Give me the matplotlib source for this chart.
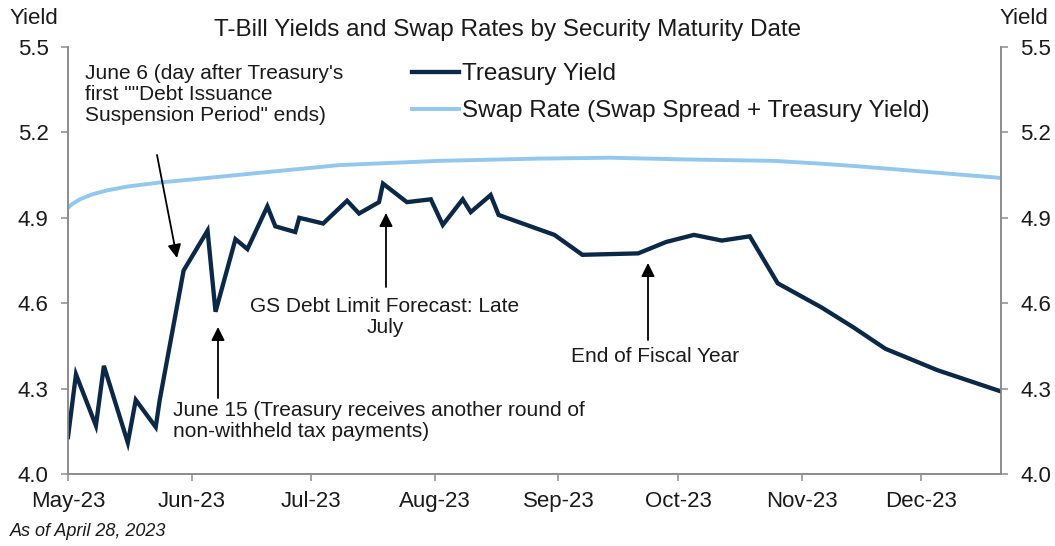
import matplotlib
matplotlib.use("Agg")
import matplotlib.pyplot as plt
import matplotlib.patches as mpatches
import pandas as pd

plt.rcParams['font.family'] = ['Liberation Sans', 'DejaVu Sans']

# ---------------- data ----------------
treasury_dates = ["2023-05-01", "2023-05-03", "2023-05-08", "2023-05-10", "2023-05-16",
                  "2023-05-18", "2023-05-23", "2023-05-24", "2023-05-30", "2023-06-05",
                  "2023-06-07", "2023-06-12", "2023-06-15", "2023-06-20", "2023-06-22",
                  "2023-06-27", "2023-06-28", "2023-07-04", "2023-07-10", "2023-07-13",
                  "2023-07-18", "2023-07-19", "2023-07-25", "2023-07-31", "2023-08-03",
                  "2023-08-08", "2023-08-10", "2023-08-15", "2023-08-17", "2023-08-31",
                  "2023-09-07", "2023-09-21", "2023-09-28", "2023-10-05", "2023-10-12",
                  "2023-10-19", "2023-10-26", "2023-11-06", "2023-11-14", "2023-11-22",
                  "2023-12-05", "2023-12-21"]
treasury_yield = [4.13, 4.35, 4.17, 4.38, 4.11, 4.26, 4.165, 4.26, 4.715,
                  4.855, 4.57, 4.825, 4.79, 4.94, 4.87, 4.85, 4.90, 4.88,
                  4.96, 4.915, 4.955, 5.02, 4.955, 4.965, 4.875, 4.965, 4.92,
                  4.98, 4.91, 4.84, 4.77, 4.775, 4.815, 4.84, 4.82, 4.835,
                  4.67, 4.585, 4.515, 4.44, 4.365, 4.29]

swap_dates = ["2023-05-01", "2023-05-02", "2023-05-04", "2023-05-07", "2023-05-11",
              "2023-05-16", "2023-05-24", "2023-06-05", "2023-06-18", "2023-07-08",
              "2023-08-02", "2023-08-27", "2023-09-14", "2023-10-03", "2023-10-25",
              "2023-11-06", "2023-11-16", "2023-12-21"]
swap_rate = [4.935, 4.948, 4.965, 4.982, 4.997, 5.010, 5.024, 5.040, 5.058, 5.085,
             5.100, 5.108, 5.111, 5.105, 5.100, 5.090, 5.080, 5.040]

month_ticks = ["2023-05-01", "2023-06-01", "2023-07-01", "2023-08-01",
               "2023-09-01", "2023-10-01", "2023-11-01", "2023-12-01"]
month_labels = ["May-23", "Jun-23", "Jul-23", "Aug-23", "Sep-23", "Oct-23", "Nov-23", "Dec-23"]
y_ticks = [4.0, 4.3, 4.6, 4.9, 5.2, 5.5]

series_names = ["Treasury Yield", "Swap Rate (Swap Spread + Treasury Yield)"]
title = "T-Bill Yields and Swap Rates by Security Maturity Date"

# ---------------- layout ----------------
W, H = 1055, 546
fig = plt.figure(figsize=(W / 100, H / 100), dpi=100)
ax = fig.add_axes([68 / W, 72 / H, (1001 - 68) / W, (474 - 47) / H])

def fp(x, y):
    return (x / W, 1 - y / H)

navy = "#0b2846"
light = "#93c8ee"
grey = "#8c8c8c"
txt = "#1a1a1a"

td = pd.to_datetime(treasury_dates)
sd = pd.to_datetime(swap_dates)
l1, = ax.plot(td, treasury_yield, color=navy, lw=3.1, solid_joinstyle="miter", zorder=3)
l2, = ax.plot(sd, swap_rate, color=light, lw=2.8, zorder=2)

ax.set_xlim(pd.Timestamp("2023-05-01"), pd.Timestamp("2023-12-21"))
ax.set_ylim(4.0, 5.5)
ax.set_xticks(pd.to_datetime(month_ticks))
ax.set_xticklabels(month_labels)
ax.set_yticks(y_ticks)
ax.set_yticklabels([f"{v:.1f}" for v in y_ticks])

ax2 = ax.twinx()
ax2.set_ylim(4.0, 5.5)
ax2.set_yticks(y_ticks)
ax2.set_yticklabels([f"{v:.1f}" for v in y_ticks])

for a in (ax, ax2):
    a.spines['top'].set_visible(False)
    for s in ('left', 'right', 'bottom'):
        a.spines[s].set_color(grey)
        a.spines[s].set_linewidth(1.2)
    a.tick_params(axis='both', colors=grey, labelcolor=txt, labelsize=16,
                  length=5, width=1.1, direction='out')
ax.tick_params(axis='y', pad=9)
ax2.tick_params(axis='y', pad=9)
ax.tick_params(axis='x', pad=7)

# axis titles
fig.text(*fp(10, 18), "Yield", fontsize=16, color=txt, ha='left', va='center')
fig.text(*fp(1000, 18), "Yield", fontsize=16, color=txt, ha='left', va='center')
fig.text(*fp(508, 30), title, fontsize=17.5, color=txt, ha='center', va='center')
fig.text(*fp(10, 531), "As of April 28, 2023", fontsize=13, style='italic',
         color=txt, ha='left', va='center')

# legend
leg = fig.legend([l1, l2], series_names, loc='upper left',
                 bbox_to_anchor=fp(412, 63), bbox_transform=fig.transFigure,
                 frameon=False, fontsize=17.5, handlelength=1.95, handletextpad=0.1,
                 borderpad=0, borderaxespad=0, labelspacing=0.62, labelcolor=txt)

# annotations
ann_kw = dict(fontsize=15, color=txt, linespacing=1.12)
fig.text(*fp(85, 64), "June 6 (day after Treasury's\nfirst \"\"Debt Issuance\nSuspension Period\" ends)",
         ha='left', va='top', **ann_kw)
fig.text(*fp(173, 401), "June 15 (Treasury receives another round of\nnon-withheld tax payments)",
         ha='left', va='top', **ann_kw)
fig.text(*fp(385, 297), "GS Debt Limit Forecast: Late\nJuly", ha='center', va='top', **ann_kw)
fig.text(*fp(655, 357), "End of Fiscal Year", ha='center', va='center', **ann_kw)

arrows = [((157, 155), (177, 258)),
          ((218, 398), (218, 327)),
          ((386, 287), (386, 213)),
          ((648, 340), (648, 263))]
for start, end in arrows:
    fig.add_artist(mpatches.FancyArrowPatch(
        fp(*start), fp(*end), transform=fig.transFigure,
        arrowstyle='-|>', mutation_scale=20, lw=1.3, color='black',
        shrinkA=0, shrinkB=0))

fig.savefig("out.png", dpi=100)
